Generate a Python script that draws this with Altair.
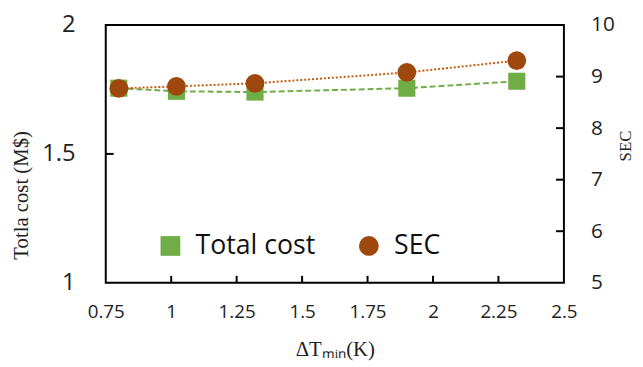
import altair as alt
import pandas as pd

# ---- data ----
dt = [0.80, 1.02, 1.32, 1.90, 2.32]
total_cost = [1.755, 1.743, 1.740, 1.755, 1.782]
sec = [8.77, 8.81, 8.87, 9.08, 9.31]
series = ["Total cost", "SEC"]
x_ticks = [0.75, 1, 1.25, 1.5, 1.75, 2, 2.25, 2.5]
left_ticks = [1, 1.5, 2]
right_ticks = [5, 6, 7, 8, 9, 10]

GREEN = "#70AD47"
BROWN = "#9E480E"
ORANGE = "#C55A11"
SANS = "Open Sans"
SERIF = "Liberation Serif"

W, H = 464, 261

df_cost = pd.DataFrame({"dt": dt, "value": total_cost, "series": series[0]})
df_sec = pd.DataFrame({"dt": dt, "value": sec, "series": series[1]})
df_xt = pd.DataFrame({"dt": x_ticks[1:-1]})
df_lt = pd.DataFrame({"value": left_ticks[1:-1]})
df_rt = pd.DataFrame({"value": right_ticks[1:-1]})

xscale = alt.Scale(domain=[x_ticks[0], x_ticks[-1]], nice=False, zero=False)
lscale = alt.Scale(domain=[left_ticks[0], left_ticks[-1]], nice=False, zero=False)
rscale = alt.Scale(domain=[right_ticks[0], right_ticks[-1]], nice=False, zero=False)

x_axis = alt.Axis(
    values=x_ticks, labelExpr="format(datum.value, '')", labelFont=SANS, labelFontSize=19,
    labelColor="#222", ticks=False, domain=False, grid=False, labelPadding=20,
    labelFlush=False, labelOverlap=False,
    title="ΔTₘᵢₙ(K)", titleFont=SERIF, titleFontSize=21, titleFontWeight="normal",
    titleColor="#222", titlePadding=18,
)
l_axis = alt.Axis(
    values=left_ticks, labelExpr="format(datum.value, '')", labelFont=SANS, labelFontSize=24,
    labelColor="#222", ticks=False, domain=False, grid=False, labelPadding=31, orient="left",
    labelFlush=False, labelOverlap=False,
    title="Totla cost (M$)", titleFont=SERIF, titleFontSize=21, titleFontWeight="normal",
    titleColor="#222", titleX=-85, titleY=172, titleAngle=270, titleAlign="center",
    titleBaseline="middle",
)
r_axis = alt.Axis(
    values=right_ticks, labelFont=SANS, labelFontSize=21, labelColor="#222",
    ticks=False, domain=False, grid=False, labelPadding=27, orient="right",
    labelFlush=False, labelOverlap=False,
    title="SEC", titleFont=SERIF, titleFontSize=17, titleFontWeight="normal",
    titleColor="#222", titleX=62, titleY=122, titleAngle=270, titleAlign="center",
    titleBaseline="middle",
)

leg = alt.Legend(
    orient="none", legendX=52, legendY=210, direction="horizontal", title=None,
    labelFont=SANS, labelFontSize=27, labelColor="#111", symbolSize=400,
    labelOffset=12, columnPadding=40, padding=0, symbolOpacity=1,
)
color = alt.Color("series:N", scale=alt.Scale(domain=series, range=[GREEN, BROWN]), legend=leg)
shape = alt.Shape("series:N", scale=alt.Scale(domain=series, range=["square", "circle"]), legend=leg)

X = alt.X("dt:Q", scale=xscale, axis=x_axis)
YL = alt.Y("value:Q", scale=lscale, axis=l_axis)
YR = alt.Y("value:Q", scale=rscale, axis=r_axis)

cost_line = alt.Chart(df_cost).mark_line(color=GREEN, strokeWidth=2, strokeDash=[6, 3]).encode(x=X, y=YL)
cost_pts = alt.Chart(df_cost).mark_point(filled=True, opacity=1, size=300).encode(
    x=X, y=YL, color=color, shape=shape)
xt_rule = alt.Chart(df_xt).mark_rule(color="black", strokeWidth=2).encode(
    x=X, y=alt.value(H), y2=alt.value(H - 7))
lt_rule = alt.Chart(df_lt).mark_rule(color="black", strokeWidth=2).encode(
    y=YL, x=alt.value(0), x2=alt.value(8))

sec_line = alt.Chart(df_sec).mark_line(color=ORANGE, strokeWidth=2, strokeDash=[2, 2]).encode(x=X, y=YR)
sec_pts = alt.Chart(df_sec).mark_point(filled=True, opacity=1, size=360).encode(
    x=X, y=YR, color=color, shape=shape)
rt_rule = alt.Chart(df_rt).mark_rule(color="black", strokeWidth=2).encode(
    y=YR, x=alt.value(W - 8), x2=alt.value(W))

left = alt.layer(cost_line, xt_rule, lt_rule, cost_pts)
right = alt.layer(sec_line, rt_rule, sec_pts)

chart = (
    alt.layer(left, right)
    .resolve_scale(y="independent")
    .properties(
        width=W, height=H,
        autosize=alt.AutoSizeParams(type="none"),
        padding={"left": 99, "top": 15, "right": 72, "bottom": 80},
        background="white",
    )
    .configure_view(stroke="black", strokeWidth=2)
)

chart.save("out.html", embed_options={"renderer": "svg", "actions": False})
